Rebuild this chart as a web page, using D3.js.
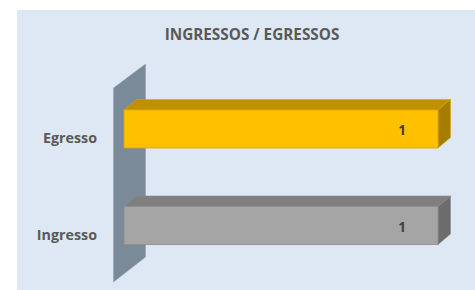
<!DOCTYPE html>
<html>
<head>
<meta charset="utf-8">
<script src="https://cdn.jsdelivr.net/npm/d3@7"></script>
<style>
  body { margin: 0; background: #fff; }
  svg { display: block; }
</style>
</head>
<body>
<script>
// chart data
var categories = ["Egresso", "Ingresso"];
var values = [1, 1];
var chartTitle = "INGRESSOS / EGRESSOS";

var width = 475, height = 290;
var font = "'Open Sans', 'Liberation Sans', sans-serif";

// face colours per bar: front, top, side, edge
var palette = {
  "Egresso": { front: "#FFC000", top: "#BF9000", side: "#A67D00", edge: "#D9A400" },
  "Ingresso": { front: "#A5A5A5", top: "#7F7F7F", side: "#6C6C6C", edge: "#8C8C8C" }
};

var svg = d3.select("body").append("svg")
  .attr("width", width)
  .attr("height", height);

// chart area background
svg.append("rect")
  .attr("x", 17).attr("y", 10)
  .attr("width", width - 17).attr("height", height - 10)
  .attr("fill", "#DEE8F4");

svg.append("text")
  .attr("x", 252).attr("y", 40)
  .attr("text-anchor", "middle")
  .attr("font-family", font)
  .attr("font-size", 15.3)
  .attr("font-weight", "bold")
  .attr("fill", "#595959")
  .text(chartTitle);

// 3d depth offset
var dx = 12.5, dy = -10.5;

var x = d3.scaleLinear().domain([0, 1]).range([124, 438]);
var y = d3.scaleBand().domain(categories).range([81, 273.5]).paddingInner(0.606).paddingOuter(0.3);

// back wall (left side panel)
var wallX = 113.5, wallTop = 88, wallBottom = 282;
svg.append("path")
  .attr("d", "M" + wallX + "," + wallTop +
             "L" + (wallX + 32) + "," + (wallTop - 24) +
             "L" + (wallX + 32) + "," + (wallBottom - 25) +
             "L" + wallX + "," + wallBottom + "Z")
  .attr("fill", "#7A8A99")
  .attr("stroke", "#8F9DAB")
  .attr("stroke-width", 0.5);

var bars = svg.selectAll("g.bar")
  .data(categories.map(function (c, i) { return { cat: c, val: values[i] }; }))
  .enter().append("g")
  .attr("class", "bar");

bars.each(function (d) {
  var g = d3.select(this);
  var c = palette[d.cat];
  var x0 = x(0), x1 = x(d.val);
  var y0 = y(d.cat), y1 = y0 + y.bandwidth();

  // top face
  g.append("path")
    .attr("d", "M" + x0 + "," + y0 + "L" + (x0 + dx) + "," + (y0 + dy) +
               "L" + (x1 + dx) + "," + (y0 + dy) + "L" + x1 + "," + y0 + "Z")
    .attr("fill", c.top).attr("stroke", c.edge).attr("stroke-width", 0.6);
  // side face
  g.append("path")
    .attr("d", "M" + x1 + "," + y0 + "L" + (x1 + dx) + "," + (y0 + dy) +
               "L" + (x1 + dx) + "," + (y1 + dy) + "L" + x1 + "," + y1 + "Z")
    .attr("fill", c.side).attr("stroke", c.edge).attr("stroke-width", 0.6);
  // front face
  g.append("rect")
    .attr("x", x0).attr("y", y0)
    .attr("width", x1 - x0).attr("height", y1 - y0)
    .attr("fill", c.front).attr("stroke", c.edge).attr("stroke-width", 0.8);

  // value label
  g.append("text")
    .attr("x", x1 - 36).attr("y", y0 + 25)
    .attr("text-anchor", "middle")
    .attr("font-family", font)
    .attr("font-size", 13.5)
    .attr("font-weight", "bold")
    .attr("fill", "#404040")
    .text(d.val);

  // category label
  g.append("text")
    .attr("x", 97).attr("y", y0 + 33.3)
    .attr("text-anchor", "end")
    .attr("font-family", font)
    .attr("font-size", 14.3)
    .attr("font-weight", "bold")
    .attr("fill", "#595959")
    .text(d.cat);
});
</script>
</body>
</html>
